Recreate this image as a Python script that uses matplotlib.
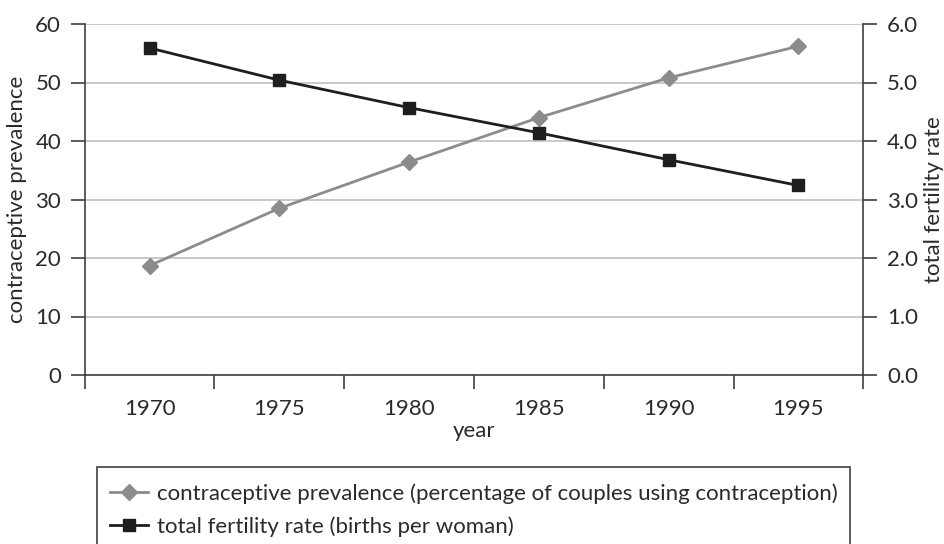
import matplotlib
matplotlib.use("Agg")
import matplotlib.pyplot as plt
from matplotlib.patches import Rectangle
from matplotlib.ticker import FormatStrFormatter

years = ["1970", "1975", "1980", "1985", "1990", "1995"]
contraceptive = [18.7, 28.5, 36.4, 44.0, 50.8, 56.2]
fertility = [5.59, 5.04, 4.57, 4.14, 3.68, 3.24]
label_cp = "contraceptive prevalence (percentage of couples using contraception)"
label_tfr = "total fertility rate (births per woman)"

plt.rcParams['font.family'] = ['Lato', 'DejaVu Sans']
TXT = '#2a2a2a'
AX = '#404040'
GRID = '#c0c0c0'
GRAY = '#8c8c8c'
BLACK = '#1e1e1e'
FS = 16

fig = plt.figure(figsize=(9.44, 5.44), dpi=100)
ax = fig.add_axes([84.7/944, 1-375/544, (863.3-84.7)/944, (375-24)/544])
ax2 = ax.twinx()

x = list(range(len(years)))
l1, = ax.plot(x, contraceptive, color=GRAY, lw=2.0, marker='D', ms=8.5,
              mfc=GRAY, mec=GRAY, label=label_cp, zorder=3)
l2, = ax2.plot(x, fertility, color=BLACK, lw=2.0, marker='s', ms=9,
               mfc=BLACK, mec=BLACK, label=label_tfr, zorder=3)

ax.set_xlim(-0.5, len(years)-0.5)
ax.set_ylim(0, 60)
ax2.set_ylim(0, 6)
ax.set_yticks(range(0, 61, 10))
ax2.set_yticks([0, 1, 2, 3, 4, 5, 6])
ax2.yaxis.set_major_formatter(FormatStrFormatter('%.1f'))

ax.set_xticks([i - 0.5 for i in range(len(years)+1)])
ax.set_xticklabels([])
ax.set_xticks(x, minor=True)
ax.set_xticklabels(years, minor=True)
ax.tick_params(axis='x', which='major', length=10, width=1.2, color=AX, direction='out')
ax.tick_params(axis='x', which='minor', length=0, pad=17, labelsize=FS, labelcolor=TXT)
ax.tick_params(axis='y', length=10, width=1.2, color=AX, pad=7, labelsize=FS, labelcolor=TXT)
ax2.tick_params(axis='y', length=10, width=1.2, color=AX, pad=7, labelsize=FS, labelcolor=TXT)

ax.grid(axis='y', color=GRID, lw=1.2, zorder=0)
ax.set_axisbelow(True)
for a in (ax, ax2):
    a.spines['top'].set_visible(False)
    for s in ('left', 'right', 'bottom'):
        a.spines[s].set_color(AX)
        a.spines[s].set_linewidth(1.2)
ax.spines['right'].set_visible(False)
ax2.spines['left'].set_visible(False)
ax2.spines['bottom'].set_visible(False)

ax.set_ylabel("contraceptive prevalence", fontsize=FS, color=TXT, labelpad=6)
ax2.set_ylabel("total fertility rate", fontsize=FS, color=TXT)
ax2.yaxis.set_label_coords((924 - 84.7) / 778.6, 0.5)
ax.set_xlabel("year", fontsize=FS, color=TXT, labelpad=2)

# legend box
fig.patches.append(Rectangle((97/944, 1-560/544), (850-97)/944, (560-466.7)/544,
                             transform=fig.transFigure, fill=False,
                             edgecolor=AX, lw=1.2))
fig.legend(handles=[l1, l2], loc='upper left',
           bbox_to_anchor=(110/944, 1-483/544), frameon=False,
           fontsize=FS, handlelength=1.7, handletextpad=0.4,
           labelspacing=0.56, borderaxespad=0, borderpad=0, labelcolor=TXT)

fig.savefig("out.png", dpi=100)
